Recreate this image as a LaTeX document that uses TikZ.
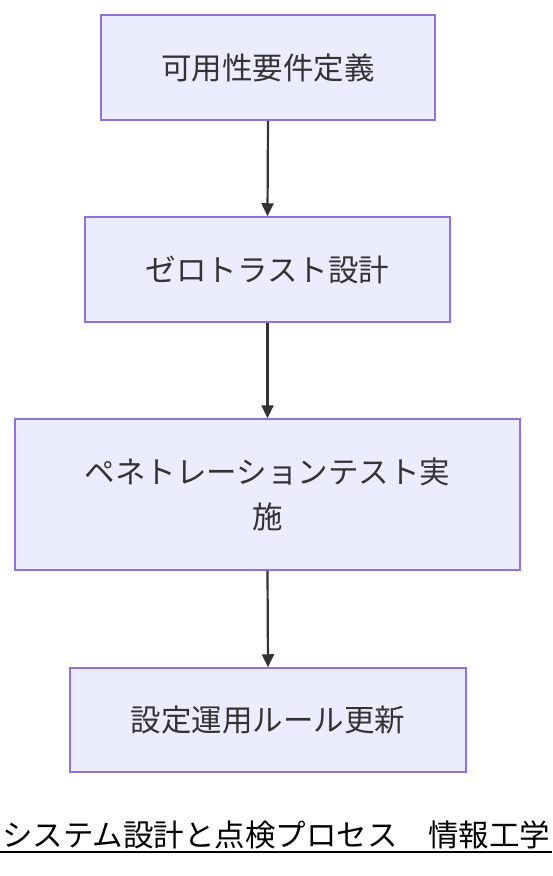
\documentclass[tikz,border=0pt]{standalone}
\usepackage{fontspec}
\setmainfont{Noto Sans CJK JP}
\usetikzlibrary{arrows.meta}
\definecolor{boxfill}{HTML}{ECECFF}
\definecolor{boxline}{HTML}{9370DB}
\definecolor{ink}{HTML}{333333}
\begin{document}
\begin{tikzpicture}[x=1pt,y=-1pt,
  stepbox/.style={draw=boxline,fill=boxfill,line width=1.5pt,inner sep=0pt,
    text=ink,font=\fontsize{30.5}{45}\selectfont,align=center},
  flow/.style={draw=ink,line width=2.2pt,-{Triangle[length=13pt,width=12pt]}}]
\useasboundingbox (0,0) rectangle (552,876);
\node[stepbox,minimum width=334pt,minimum height=105pt] (a) at (268,67.5) {可用性要件定義};
\node[stepbox,minimum width=365pt,minimum height=105pt] (b) at (267.5,269.5) {ゼロトラスト設計};
\node[stepbox,minimum width=505pt,minimum height=151pt] (c) at (267.5,494.5) {ペネトレーションテスト実\\施};
\node[stepbox,minimum width=396pt,minimum height=104pt] (d) at (268,720) {設定運用ルール更新};
\draw[flow] (a.south) -- (b.north);
\draw[flow] (b.south) -- (c.north);
\draw[flow] (c.south) -- (d.north);
\node[anchor=base west,inner sep=0pt,font=\fontsize{30.5}{32}\selectfont,text=black] (cap) at (2,846) {システム設計と点検プロセス　情報工学};
\draw[line width=2pt,black] (0,852) -- (552,852);
\end{tikzpicture}
\end{document}
